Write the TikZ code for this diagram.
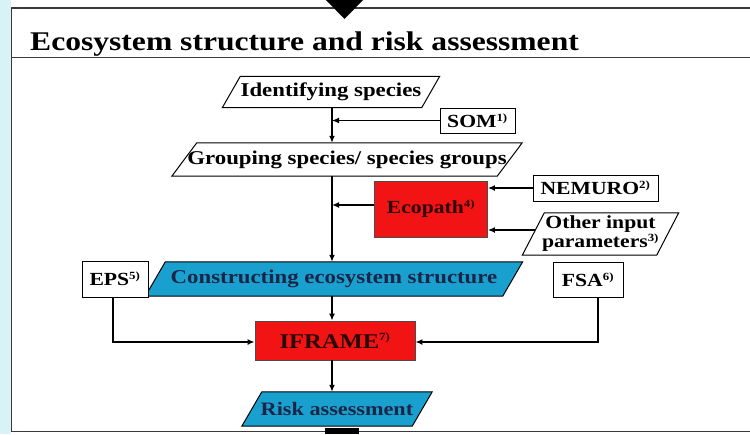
\documentclass[tikz,border=0pt]{standalone}
\usepackage{fontspec}
\setmainfont[FakeStretch=1.17]{Liberation Serif}
\usetikzlibrary{arrows.meta,backgrounds}
\definecolor{stripc}{HTML}{D8F2F6}
\definecolor{framec}{HTML}{3A3A3A}
\definecolor{boxred}{HTML}{F21414}
\definecolor{boxblue}{HTML}{1AA0CF}
\definecolor{navytext}{HTML}{1B2547}
\definecolor{redtext}{HTML}{2A0505}
\newcommand{\pgram}[3]{%
  \begin{pgfonlayer}{background}
    \draw[line width=1pt, fill=#3] ([xshift=#2]#1.north west) -- ([xshift=#2]#1.north east)
      -- ([xshift=-#2]#1.south east) -- ([xshift=-#2]#1.south west) -- cycle;
  \end{pgfonlayer}}
\newcommand{\supr}[1]{\textsuperscript{\fontsize{11}{11}\selectfont #1}}
\begin{document}
\begin{tikzpicture}[x=1pt,y=-1pt,
  txt/.style={inner sep=0pt, align=center, font=\bfseries\fontsize{19.5}{21}\selectfont},
  rbox/.style={draw=black, line width=1pt, fill=white, inner sep=0pt, align=center, font=\bfseries\fontsize{18.5}{20}\selectfont},
  redbox/.style={draw=black!70, line width=0.8pt, fill=boxred, inner sep=0pt, align=center, text=redtext, font=\bfseries\fontsize{18.5}{20}\selectfont},
  arr/.style={-{Latex[length=7pt,width=6pt]}, line width=1.5pt},
  frame/.style={draw=framec, line width=1.1pt}]
\useasboundingbox (0,0) rectangle (750,434);
% background strip and frame
\fill[stripc] (0,0) rectangle (11,434);
\draw[frame] (11.5,7.5) -- (11.5,431.5) -- (750,431.5);
\draw[frame] (11,8) -- (750,8);
\draw[frame, line width=0.8pt] (11,57.5) -- (750,57.5);
\fill[black] (326,0) -- (363,0) -- (344.5,19) -- cycle;
\fill[black] (325,428) rectangle (359,434);
\node[anchor=base west, inner sep=0pt, font=\bfseries\fontsize{27}{30}\selectfont] (title) at (30,50) {Ecosystem structure and risk assessment};
% nodes
\coordinate (main) at (332,0);
\node[txt, minimum width=199pt, minimum height=31pt] (ident) at (331,92) {Identifying species};
\pgram{ident}{9pt}{white}
\node[rbox, minimum width=75pt, minimum height=25pt] (som) at (477.5,120.5) {SOM\supr{1)}};
\node[txt, minimum width=325pt, minimum height=33pt] (group) at (347,159.5) {Grouping species/ species groups};
\pgram{group}{12.5pt}{white}
\node[redbox, minimum width=113pt, minimum height=56pt] (ecopath) at (431,209) {Ecopath\supr{4)}};
\node[rbox, minimum width=125pt, minimum height=26pt] (nemuro) at (595.5,188) {NEMURO\supr{2)}};
\node[txt, minimum width=134pt, minimum height=42pt, font=\bfseries\fontsize{18.5}{19}\selectfont] (other) at (600.5,234) {Other input\\parameters\supr{3)}};
\pgram{other}{11pt}{white}
\node[txt, minimum width=357pt, minimum height=34pt, text=navytext] (constr) at (334,279) {Constructing ecosystem structure};
\pgram{constr}{10pt}{boxblue}
\node[rbox, minimum width=66pt, minimum height=36pt] (eps) at (115,279) {EPS\supr{5)}};
\node[rbox, minimum width=70pt, minimum height=35pt] (fsa) at (588,279.5) {FSA\supr{6)}};
\node[redbox, minimum width=160pt, minimum height=39pt, font=\bfseries\fontsize{21}{23}\selectfont] (iframe) at (335,340.5) {IFRAME\supr{7)}};
\node[txt, minimum width=170pt, minimum height=34pt, text=navytext, font=\bfseries\fontsize{19}{21}\selectfont] (risk) at (337,409) {Risk assessment};
\pgram{risk}{10pt}{boxblue}
% connectors
\draw[arr] (ident.south -| main) -- (group.north -| main);
\draw[arr] (som.west) -- (som.west -| main);
\draw[arr] (group.south -| main) -- (constr.north -| main);
\draw[arr] ([yshift=4pt]ecopath.west) -- ([yshift=4pt]ecopath.west -| main);
\draw[arr] (nemuro.west) -- (nemuro.west -| ecopath.east);
\draw[arr] ([xshift=2pt,yshift=4pt]other.west) -- ([yshift=4pt]other.west -| ecopath.east);
\draw[arr] (constr.south -| main) -- (iframe.north -| main);
\draw[arr] ([xshift=-2pt]eps.south) |- ([yshift=-1.5pt]iframe.west);
\draw[arr] ([xshift=10pt]fsa.south) |- ([yshift=-1.5pt]iframe.east);
\draw[arr] (iframe.south -| main) -- (risk.north -| main);
\end{tikzpicture}
\end{document}
